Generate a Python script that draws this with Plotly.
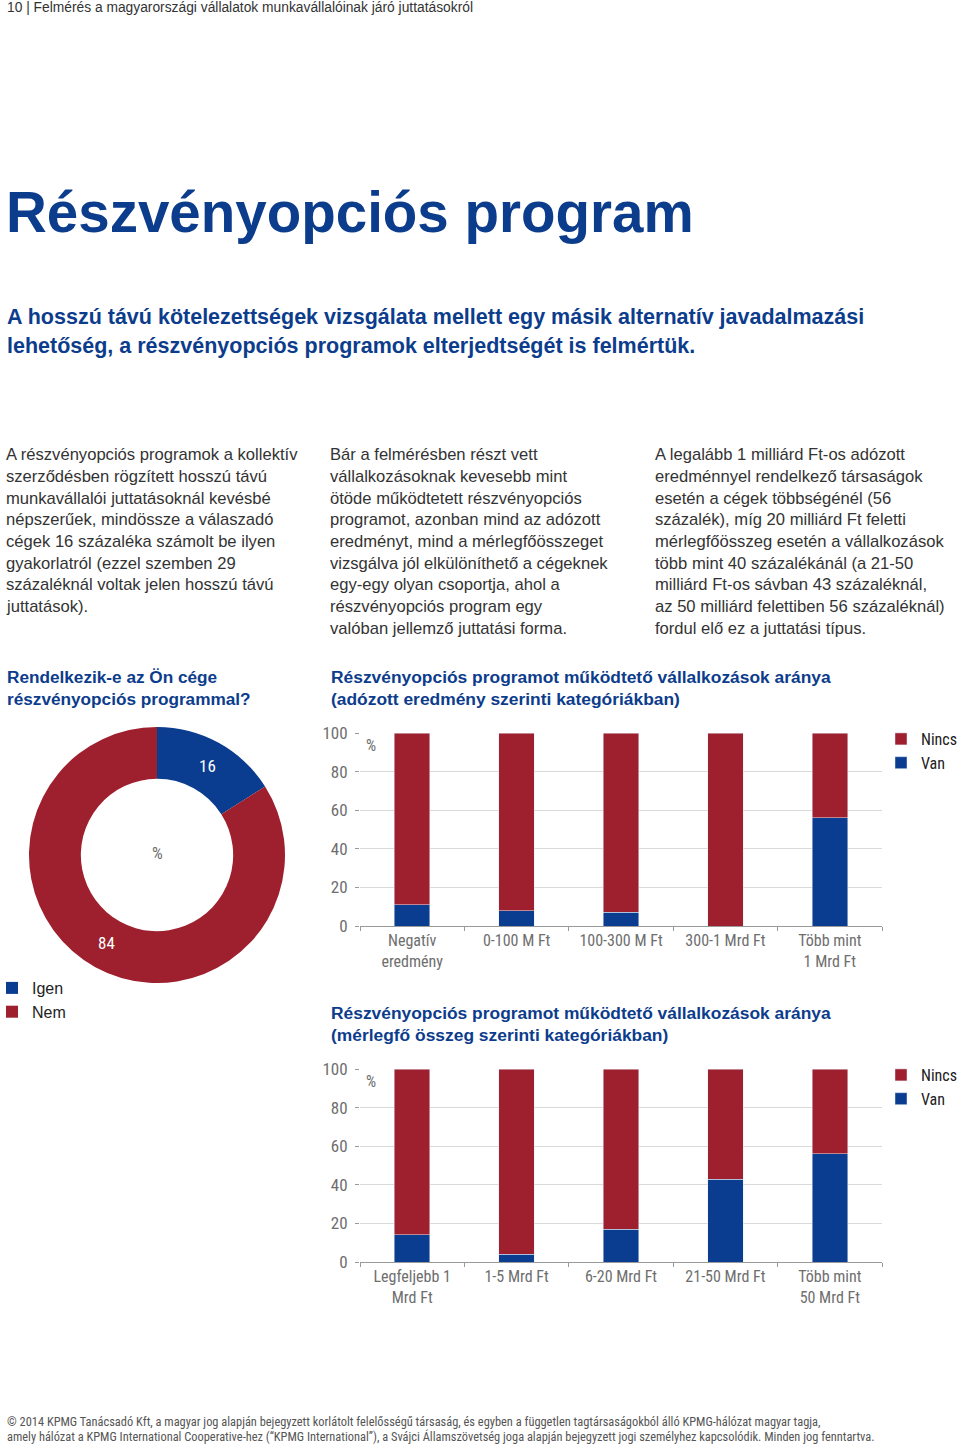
import plotly.graph_objects as go

# ---------------- data ----------------
pie_labels = ["Igen", "Nem"]
pie_values = [16, 84]

cat_profit = ["Negatív<br>eredmény", "0-100 M Ft", "100-300 M Ft", "300-1 Mrd Ft", "Több mint<br>1 Mrd Ft"]
van_profit = [11, 8, 7, 0, 56]
nincs_profit = [89, 92, 93, 100, 44]

cat_assets = ["Legfeljebb 1<br>Mrd Ft", "1-5 Mrd Ft", "6-20 Mrd Ft", "21-50 Mrd Ft", "Több mint<br>50 Mrd Ft"]
van_assets = [14, 4, 17, 43, 56]
nincs_assets = [86, 96, 83, 57, 44]

y_ticks = [0, 20, 40, 60, 80, 100]

header_text = "10 | Felmérés a magyarországi vállalatok munkavállalóinak járó juttatásokról"
title_text = "Részvényopciós program"
subtitle_lines = [
    "A hosszú távú kötelezettségek vizsgálata mellett egy másik alternatív javadalmazási",
    "lehetőség, a részvényopciós programok elterjedtségét is felmértük.",
]
col1_lines = [
    "A részvényopciós programok a kollektív",
    "szerződésben rögzített hosszú távú",
    "munkavállalói juttatásoknál kevésbé",
    "népszerűek, mindössze a válaszadó",
    "cégek 16 százaléka számolt be ilyen",
    "gyakorlatról (ezzel szemben 29",
    "százaléknál voltak jelen hosszú távú",
    "juttatások).",
]
col2_lines = [
    "Bár a felmérésben részt vett",
    "vállalkozásoknak kevesebb mint",
    "ötöde működtetett részvényopciós",
    "programot, azonban mind az adózott",
    "eredményt, mind a mérlegfőösszeget",
    "vizsgálva jól elkülöníthető a cégeknek",
    "egy-egy olyan csoportja, ahol a",
    "részvényopciós program egy",
    "valóban jellemző juttatási forma.",
]
col3_lines = [
    "A legalább 1 milliárd Ft-os adózott",
    "eredménnyel rendelkező társaságok",
    "esetén a cégek többségénél (56",
    "százalék), míg 20 milliárd Ft feletti",
    "mérlegfőösszeg esetén a vállalkozások",
    "több mint 40 százalékánál (a 21-50",
    "milliárd Ft-os sávban 43 százaléknál,",
    "az 50 milliárd felettiben 56 százaléknál)",
    "fordul elő ez a juttatási típus.",
]
pie_title = ["Rendelkezik-e az Ön cége", "részvényopciós programmal?"]
bar1_title = ["Részvényopciós programot működtető vállalkozások aránya",
              "(adózott eredmény szerinti kategóriákban)"]
bar2_title = ["Részvényopciós programot működtető vállalkozások aránya",
              "(mérlegfő összeg szerinti kategóriákban)"]
footer_lines = [
    "© 2014 KPMG Tanácsadó Kft, a magyar jog alapján bejegyzett korlátolt felelősségű társaság, és egyben a független tagtársaságokból álló KPMG-hálózat magyar tagja,",
    "amely hálózat a KPMG International Cooperative-hez (“KPMG International”), a Svájci Államszövetség joga alapján bejegyzett jogi személyhez kapcsolódik. Minden jog fenntartva.",
]

# ---------------- style ----------------
W, H = 960, 1445
RED = "#9e1f2d"
BLUE = "#0a3d8f"
TBLUE = "#0c3c8c"
TXT = "#333333"
GRAY = "#6e6e6e"
SANS = "Liberation Sans, Arial, sans-serif"
COND = "Liberation Sans Narrow, Roboto Condensed, DejaVu Sans Condensed, Arial Narrow, sans-serif"


def X(px):
    return px / W


def Y(py):
    return 1 - py / H


fig = go.Figure()

# donut
fig.add_trace(go.Pie(
    labels=pie_labels, values=pie_values, hole=0.595, sort=False,
    direction="clockwise", rotation=0, textinfo="none",
    marker=dict(colors=[BLUE, RED], line=dict(width=0)),
    domain=dict(x=[X(29), X(285)], y=[Y(983), Y(727)]),
    legend="legend", showlegend=True, hoverinfo="label+value",
))

# bar chart 1
fig.add_trace(go.Bar(x=cat_profit, y=van_profit, name="Van", marker_color=BLUE,
                     width=0.34, xaxis="x", yaxis="y", legend="legend2"))
fig.add_trace(go.Bar(x=cat_profit, y=nincs_profit, name="Nincs", marker_color=RED,
                     width=0.34, xaxis="x", yaxis="y", legend="legend2"))
# bar chart 2
fig.add_trace(go.Bar(x=cat_assets, y=van_assets, name="Van", marker_color=BLUE,
                     width=0.34, xaxis="x2", yaxis="y2", legend="legend3"))
fig.add_trace(go.Bar(x=cat_assets, y=nincs_assets, name="Nincs", marker_color=RED,
                     width=0.34, xaxis="x2", yaxis="y2", legend="legend3"))

xaxis_style = dict(
    showline=True, linecolor="#9a9a9a", linewidth=1,
    ticks="outside", ticklen=4, tickcolor="#9a9a9a", tickson="boundaries",
    tickfont=dict(family=COND, size=16, color=GRAY), showgrid=False,
    fixedrange=True, type="category", automargin=False,
)
yaxis_style = dict(
    range=[0, 100], tickvals=y_ticks, showgrid=True, gridcolor="#d9d9d9",
    gridwidth=1, zeroline=False, showline=False, ticks="outside", ticklen=4,
    tickcolor="#9a9a9a", tickfont=dict(family=COND, size=17, color=GRAY),
    ticklabelstandoff=4, fixedrange=True, automargin=False,
)

legend_bar = dict(
    font=dict(family=COND, size=16, color="#222"), traceorder="reversed",
    bgcolor="rgba(0,0,0,0)", itemwidth=30, tracegroupgap=0,
    xanchor="left", yanchor="top", xref="container", yref="container",
)

fig.update_layout(
    width=W, height=H, autosize=False,
    margin=dict(l=0, r=0, t=0, b=0, autoexpand=False),
    paper_bgcolor="white", plot_bgcolor="white",
    barmode="stack", showlegend=True,
    xaxis=dict(domain=[X(360), X(882)], anchor="y", **xaxis_style),
    yaxis=dict(domain=[Y(926), Y(733)], anchor="x", **yaxis_style),
    xaxis2=dict(domain=[X(360), X(882)], anchor="y2", **xaxis_style),
    yaxis2=dict(domain=[Y(1262), Y(1069)], anchor="x2", **yaxis_style),
    legend=dict(x=X(-8), y=Y(971), xanchor="left", yanchor="top",
                xref="paper", yref="paper",
                font=dict(family=SANS, size=16, color="#222"),
                bgcolor="rgba(0,0,0,0)", itemwidth=30, traceorder="normal"),
    legend2=dict(x=X(881), y=Y(722), **legend_bar),
    legend3=dict(x=X(881), y=Y(1058), **legend_bar),
)

ann = []


def text(px, py, s, size, color=TXT, family=SANS, bold=False, xanchor="left"):
    ann.append(dict(
        x=X(px), y=Y(py), xref="paper", yref="paper", text=("<b>%s</b>" % s) if bold else s,
        showarrow=False, xanchor=xanchor, yanchor="middle",
        font=dict(family=family, size=size, color=color),
    ))


text(5, 8, header_text, 13.8, color=TXT)
text(4, 212, title_text, 56.5, color=TBLUE, bold=True)
for i, s in enumerate(subtitle_lines):
    text(5, 317 + 29 * i, s, 21.5, color=TBLUE, bold=True)

for col_x, lines in ((4, col1_lines), (328, col2_lines), (653, col3_lines)):
    for i, s in enumerate(lines):
        text(col_x, 455 + 21.65 * i, s, 16.6, color=TXT)

for i, s in enumerate(pie_title):
    text(5, 677 + 22 * i, s, 17.2, color=TBLUE, bold=True)
for i, s in enumerate(bar1_title):
    text(329, 677 + 22 * i, s, 17.4, color=TBLUE, bold=True)
for i, s in enumerate(bar2_title):
    text(329, 1013 + 22 * i, s, 17.4, color=TBLUE, bold=True)

# donut labels
text(207, 766, str(pie_values[0]), 17, color="white", family=COND, xanchor="center")
text(106, 943, str(pie_values[1]), 17, color="white", family=COND, xanchor="center")
text(157, 853, "%", 17, color=GRAY, family=COND, xanchor="center")
# bar unit labels
text(371, 745, "%", 16, color=GRAY, family=COND, xanchor="center")
text(371, 1081, "%", 16, color=GRAY, family=COND, xanchor="center")

for i, s in enumerate(footer_lines):
    text(5, 1421 + 15 * i, s, 12.4, color="#555555", family=COND)

fig.update_layout(annotations=ann)

fig.write_html(
    "out.html",
    config={"displayModeBar": False},
    post_script="document.body.style.margin='0';document.body.style.padding='0';"
                "document.documentElement.style.overflow='hidden';",
)
